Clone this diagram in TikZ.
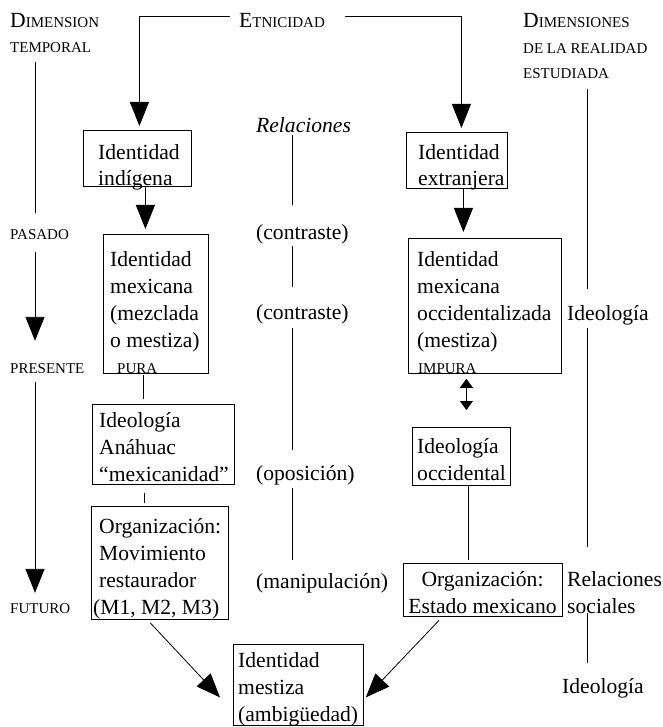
\documentclass[tikz,border=0pt]{standalone}
\usepackage{fontspec}
\setmainfont{Liberation Serif}
\usetikzlibrary{arrows.meta}

\newcommand\bodyfont{\fontsize{21.6}{26.8}\selectfont}
\newcommand\headfont{\fontsize{21.6}{25.5}\selectfont}
\newcommand\smfont{\fontsize{15}{18}\selectfont}
\newcommand\capsm[1]{{\smfont #1}}

\tikzset{
  box/.style={draw,line width=0.8pt,inner sep=0pt,anchor=north west},
  txt/.style={anchor=base west,inner sep=0pt,align=left,font=\bodyfont},
  hd/.style={txt,font=\headfont},
  sc/.style={anchor=base west,inner sep=0pt,font=\smfont},
  ln/.style={line width=0.8pt},
  arr/.style={ln,-{Triangle[length=24pt,width=19pt]}},
  darr/.style={ln,{Triangle[length=9pt,width=13pt]}-{Triangle[length=9pt,width=13pt]}},
}

\begin{document}
\begin{tikzpicture}[x=1pt,y=1pt]
\useasboundingbox (0,0) rectangle (662,-727);

% columnas de las lineas verticales
\coordinate (cl) at (35,0);
\coordinate (cm) at (292.5,0);
\coordinate (cr) at (587,0);

% encabezados (base = ultima linea)
\node[hd] (dimt) at (10,-53) {D\capsm{IMENSION}\\\capsm{TEMPORAL}};
\node[hd] (etn) at (239,-28) {E\capsm{TNICIDAD}};
\node[hd] (dimr) at (523,-79) {D\capsm{IMENSIONES}\\\capsm{DE LA REALIDAD}\\\capsm{ESTUDIADA}};

% tiempo
\node[sc] (pas) at (10,-240) {PASADO};
\node[sc] (pres) at (10,-373) {PRESENTE};
\node[sc] (fut) at (10,-613) {FUTURO};

% cajas
\node[box,minimum width=108pt,minimum height=56pt] (ind) at (83,-130) {};
\node[box,minimum width=101pt,minimum height=56pt] (ext) at (406,-132) {};
\node[box,minimum width=105pt,minimum height=139pt] (mex) at (103,-234) {};
\node[box,minimum width=153pt,minimum height=135pt] (mexo) at (408,-238) {};
\node[box,minimum width=142pt,minimum height=80pt] (ideoa) at (92,-404) {};
\node[box,minimum width=98pt,minimum height=58pt] (ideoo) at (412,-427) {};
\node[box,minimum width=137pt,minimum height=113pt] (orgm) at (91,-506) {};
\node[box,minimum width=159pt,minimum height=53pt] (orge) at (403,-563) {};
\node[box,minimum width=130pt,minimum height=81pt] (mest) at (233,-644) {};

% textos de las cajas (base = ultima linea)
\node[txt] (tind) at (98,-186) {Identidad\\indígena};
\node[txt] (text) at (418,-186) {Identidad\\extranjera};
\node[txt] (tmex) at (110,-347) {Identidad\\mexicana\\(mezclada\\o mestiza)};
\node[sc] (pura) at (117,-373) {PURA};
\node[txt] (tmexo) at (417,-347) {Identidad\\mexicana\\occidentalizada\\(mestiza)};
\node[sc] (impura) at (418,-373) {IMPURA};
\node[txt] (tideoa) at (99,-481) {Ideología\\Anáhuac\\“mexicanidad”};
\node[txt] (tideoo) at (417,-480) {Ideología\\occidental};
\node[txt] (torgm) at (99,-614) {Organización:\\Movimiento\\restaurador\\\hspace*{-6pt}(M1, M2, M3)};
\node[txt,align=center,anchor=base] (torge) at (482.5,-613) {Organización:\\Estado mexicano};
\node[txt] (tmest) at (238,-721) {Identidad\\mestiza\\(ambigüedad)};

% relaciones
\node[txt,font=\bodyfont\itshape] (rel) at (256,-133) {Relaciones};
\node[txt] (con1) at (256,-240) {(contraste)};
\node[txt] (con2) at (256,-319) {(contraste)};
\node[txt] (opo) at (256,-480) {(oposición)};
\node[txt] (man) at (256,-588) {(manipulación)};

% dimensiones de la realidad
\node[txt] (ideo1) at (567,-320) {Ideología};
\node[txt] (relsoc) at (567,-613) {Relaciones\\sociales};
\node[txt] (ideo2) at (562,-693) {Ideología};

% lineas del tiempo
\draw[ln,shorten <=9pt,shorten >=17pt] (dimt.south -| cl) -- (pas.north -| cl);
\draw[arr,shorten <=12pt,shorten >=22pt] (pas.south -| cl) -- (pres.north -| cl);
\draw[arr,shorten <=9pt,shorten >=10pt] (pres.south -| cl) -- (fut.north -| cl);

% etnicidad
\draw[arr,shorten >=4pt] ([xshift=-9pt,yshift=5pt]etn.west) -| ([xshift=2pt]ind.north);
\draw[arr,shorten >=4pt] ([xshift=20pt,yshift=5pt]etn.east) -| ([xshift=4.5pt]ext.north);

% flechas entre cajas
\draw[arr,shorten >=5pt] ([xshift=8pt]ind.south) -- ([xshift=8pt]ind.south |- mex.north);
\draw[arr,shorten >=6pt] ([xshift=6.5pt]ext.south) -- ([xshift=6.5pt]ext.south |- mexo.north);
\draw[ln,shorten <=1pt,shorten >=5pt] ([xshift=-12.5pt]mex.south) -- ([xshift=-12.5pt]mex.south |- ideoa.north);
\draw[ln,shorten <=8pt,shorten >=3pt] ([xshift=-19pt]ideoa.south) -- ([xshift=-19pt]ideoa.south |- orgm.north);
\draw[darr,shorten <=5pt,shorten >=17pt] ([xshift=-18.5pt]mexo.south) -- ([xshift=-18.5pt]mexo.south |- ideoo.north);
\draw[ln,shorten >=3pt] ([xshift=7pt]ideoo.south) -- ([xshift=7pt]ideoo.south |- orge.north);
\draw[arr,shorten <=4pt] ([xshift=-12.5pt]orgm.south) -- ([xshift=-13pt,yshift=-12.5pt]mest.west);
\draw[arr,shorten <=5pt] ([xshift=-40.5pt]orge.south) -- ([xshift=2pt,yshift=-12.5pt]mest.east);

% lineas de relaciones
\draw[ln,shorten <=2pt,shorten >=20pt] (rel.south -| cm) -- (con1.north -| cm);
\draw[ln,shorten <=1pt,shorten >=17pt] (con1.south -| cm) -- (con2.north -| cm);
\draw[ln,shorten <=4pt,shorten >=15pt] (con2.south -| cm) -- (opo.north -| cm);
\draw[ln,shorten <=3pt,shorten >=13pt] (opo.south -| cm) -- (man.north -| cm);

% lineas de la derecha
\draw[ln,shorten <=10pt,shorten >=16pt] (dimr.south -| cr) -- (ideo1.north -| cr);
\draw[ln,shorten <=3pt,shorten >=24pt] (ideo1.south -| cr) -- (relsoc.north -| cr);
\draw[ln,shorten >=15pt] (relsoc.south -| cr) -- (ideo2.north -| cr);
\end{tikzpicture}
\end{document}
